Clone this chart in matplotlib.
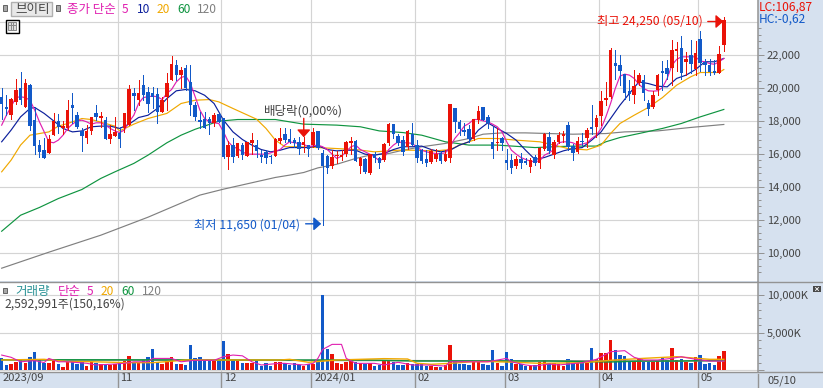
import matplotlib
matplotlib.use("Agg")
import matplotlib.pyplot as plt
from matplotlib.lines import Line2D
from matplotlib.patches import Rectangle
from matplotlib.ticker import FixedLocator
from matplotlib.transforms import ScaledTranslation

plt.rcParams["font.family"] = ["Noto Sans CJK KR", "DejaVu Sans"]

# daily candles, 2023/09 .. 05/10
opens = [19440, 18830, 18320, 19130, 20000, 18830, 20140, 18020, 16510, 16200, 16040, 17110, 17940, 17520, 17520, 18930,
         18320, 17370, 16910, 17370, 18460, 18160, 18020, 16870, 17050, 17270, 17520, 17720, 19680, 19230, 20140, 19740,
         19680, 19580, 18530, 19440, 20450, 21350, 20750, 21210, 20340, 18930, 18020, 18120, 18080, 17820, 18380, 18180,
         15760, 16510, 15840, 16510, 15840, 16650, 16510, 15900, 16100, 15840, 15860, 16750, 17210, 16870, 16810, 16710,
         16510, 16510, 16510, 17350, 16060, 15840, 15230, 15840, 15800, 15960, 16610, 16770, 15230, 15660, 14790, 15960,
         15700, 15600, 16610, 17780, 17050, 16810, 16410, 17210, 16510, 16200, 15640, 15500, 15640, 16040, 15560, 15740,
         18730, 17880, 17420, 17460, 16870, 18060, 18830, 18220, 16710, 16610, 16950, 15600, 15600, 15230, 15660, 15560,
         15190, 15800, 15400, 16300, 17010, 15900, 16710, 17070, 17720, 16470, 16100, 16750, 16910, 17620, 17580, 18260,
         19230, 19440, 21500, 21350, 20810, 19800, 19540, 20300, 20450, 19090, 18830, 19840, 21010, 21170, 21190, 22200,
         22420, 21520, 21960, 21150, 22910, 21560, 21390, 20990, 20890, 22600]
highs = [19940, 19540, 19370, 20500, 20910, 20500, 20200, 18830, 16810, 16910, 17110, 18430, 18380, 17960, 19230, 19640,
         18490, 17560, 17720, 18220, 18930, 18530, 18220, 17720, 18220, 17620, 18460, 20140, 19940, 20450, 20750, 20040,
         20040, 19940, 19440, 20850, 21900, 21660, 21250, 21350, 21350, 19130, 18530, 18530, 18220, 18460, 18380, 18180,
         16770, 16910, 16650, 16610, 16710, 17250, 16810, 16200, 16200, 15900, 16910, 17520, 17520, 17460, 16910, 17010,
         17010, 16510, 17520, 17350, 16200, 15900, 16240, 16160, 16200, 16770, 17010, 16810, 15800, 15700, 16000, 16100,
         15800, 16610, 17860, 17780, 17210, 17050, 17420, 17820, 16810, 16300, 16200, 16300, 16260, 16160, 16240, 18990,
         18730, 18060, 17820, 17720, 18120, 18870, 18830, 18320, 17580, 17520, 17010, 16300, 16000, 15840, 16040, 15700,
         15700, 15900, 16410, 17270, 17310, 16810, 17310, 17350, 17880, 16550, 17010, 17270, 17520, 18930, 18320, 19800,
         20340, 22400, 22260, 21960, 20810, 20450, 21050, 20850, 20750, 19230, 19800, 20790, 21600, 21660, 22870, 22770,
         23110, 22160, 22870, 22830, 23430, 21700, 21700, 21660, 22500, 24250]
lows = [18120, 18320, 18080, 19030, 19030, 18790, 17420, 16000, 15800, 15740, 16040, 17110, 17250, 17210, 17420, 17820,
        17520, 16160, 16650, 17170, 18020, 17620, 16870, 16610, 17050, 16410, 17310, 17720, 18630, 18930, 19230, 18530,
        18730, 17860, 18530, 18630, 20450, 20450, 19940, 19840, 18320, 18020, 17520, 17520, 17210, 17660, 17920, 15700,
        15090, 15460, 15760, 15640, 15840, 16000, 15800, 15460, 15400, 15440, 15860, 16610, 16710, 16610, 16410, 16000,
        16100, 15860, 16410, 16300, 11650, 14790, 15150, 15440, 15600, 15860, 16000, 15540, 14830, 14790, 14750, 15500,
        15150, 15560, 16510, 16910, 16510, 15900, 16300, 16510, 15500, 15400, 15230, 15440, 15560, 15440, 15540, 15500,
        17310, 17110, 17110, 16710, 16810, 17820, 18020, 17520, 15700, 16240, 16240, 15090, 14830, 15150, 15150, 15350,
        14890, 15290, 15130, 16200, 16060, 15700, 16650, 16710, 16200, 15600, 16060, 16510, 16410, 17210, 17010, 17720,
        18930, 19370, 20540, 20140, 19330, 19230, 19070, 20140, 19230, 18360, 18770, 19540, 19840, 20540, 20140, 20990,
        20540, 20750, 20850, 20750, 21010, 20750, 20750, 20810, 20890, 22220]
closes = [19030, 18670, 19330, 19840, 19270, 20300, 17680, 16450, 16100, 15740, 16870, 17960, 17620, 17660, 18630, 18770,
          17620, 17050, 17370, 18220, 18220, 18260, 16870, 17170, 17310, 16870, 18460, 19900, 19480, 19680, 19540, 19030,
          19440, 18490, 19230, 20300, 21410, 20750, 21050, 19980, 18930, 18220, 17920, 17560, 17820, 18320, 17920, 15760,
          16510, 15760, 16610, 15900, 16710, 16810, 16140, 15800, 15700, 15760, 16870, 16970, 16810, 16710, 16610, 16260,
          16710, 16300, 17310, 16340, 15230, 15150, 15760, 15900, 15940, 16710, 16750, 15540, 15700, 14850, 15960, 15700,
          15440, 16570, 17760, 17210, 16650, 16100, 17350, 16510, 15700, 15540, 15440, 16160, 16000, 15540, 16000, 18990,
          17920, 17460, 17310, 16870, 18120, 18570, 18020, 17820, 16260, 16710, 16610, 15440, 15150, 15640, 15440, 15440,
          15600, 15400, 16340, 17210, 16160, 16710, 17110, 17210, 16370, 16060, 16750, 16670, 17420, 17480, 18180, 19170,
          19390, 22300, 21290, 21010, 19680, 19600, 20100, 20750, 19640, 18690, 19540, 20750, 20850, 20810, 22260, 22360,
          20850, 21720, 21450, 22120, 21500, 21350, 20950, 20890, 22020, 24120]
volumes = [1560, 670, 800, 1120, 1340, 890, 1740, 2410, 1340, 980, 890, 1250, 800, 450, 1250, 1030, 800, 1030, 540, 1030,
           890, 760, 670, 710, 760, 1120, 1200, 1870, 1120, 1120, 1340, 1690, 2810, 1120, 800, 1200, 1690, 800, 800, 670,
           3350, 1560, 1690, 1340, 1250, 1250, 1200, 3880, 2140, 1340, 1340, 890, 890, 890, 1250, 540, 890, 540, 1120, 1120,
           890, 670, 890, 670, 580, 760, 800, 1120, 10040, 2810, 2140, 890, 800, 1070, 1200, 1030, 890, 800, 890, 580,
           670, 1200, 1200, 1030, 670, 670, 890, 760, 760, 760, 580, 580, 450, 450, 670, 3350, 1200, 800, 800, 670,
           1120, 1120, 800, 670, 2680, 980, 540, 2410, 1430, 800, 800, 540, 540, 670, 1120, 1340, 890, 890, 800, 540,
           1470, 890, 890, 890, 890, 2940, 1430, 2320, 2230, 4010, 2680, 2010, 1870, 1120, 1120, 1470, 1120, 1120, 1120, 1200,
           1690, 1340, 2940, 1340, 1470, 1070, 890, 1690, 2010, 800, 980, 670, 1870, 2590]

# price moving averages
ma5 = [17720, 18320, 18830, 19390, 19440, 19390, 19230, 18630, 17920, 17310, 16710, 16650, 16810, 17110, 17520, 17780,
       17980, 18020, 17920, 17780, 17860, 17860, 17720, 17520, 17370, 17270, 17420, 17920, 18320, 19030, 19390, 19440,
       19480, 19440, 19270, 19640, 19880, 20340, 20610, 20690, 20240, 19440, 18630, 18120, 17920, 17860, 17820, 17310,
       16710, 16410, 16300, 16100, 15960, 15960, 15960, 15960, 15960, 16040, 16140, 16240, 16510, 16710, 16650, 16610,
       16550, 16410, 16470, 16510, 16410, 16240, 15960, 15700, 15840, 16100, 16410, 16510, 16240, 16100, 15960, 15800,
       15560, 15700, 16240, 16510, 16710, 16650, 16650, 16610, 16370, 16200, 16100, 16040, 16000, 16000, 16040, 16410,
       16910, 17250, 17660, 17820, 18060, 18060, 17980, 17920, 17780, 17620, 17310, 16710, 16200, 15960, 15760, 15640,
       15540, 15500, 15560, 15900, 16040, 16240, 16650, 16710, 16710, 16650, 16510, 16570, 16650, 16910, 17110, 17520,
       18220, 19030, 19940, 20690, 20810, 20750, 20550, 20200, 19940, 19800, 19780, 19800, 20000, 20550, 21350, 21700,
       21860, 21860, 21860, 21860, 21600, 21560, 21450, 21410, 21560, 21760]
ma10_days = [0, 2, 4, 6, 7, 9, 11, 13, 15, 17, 19, 21, 23, 25, 27, 29, 31, 33, 35, 37, 39, 41, 43, 45, 47, 49, 51, 53, 55, 57,
             59, 61, 63, 65, 67, 69, 71, 73, 75, 77, 79, 81, 83, 85, 87, 89, 91, 93, 95, 97, 99, 101, 103, 105, 107, 109,
             111, 113, 115, 117, 119, 121, 123, 125, 127, 129, 131, 133, 135, 137, 139, 141, 143, 145, 147, 149, 151, 153]
ma10 = [16710, 17420, 18220, 18730, 18790, 18430, 17980, 17520, 17310, 17370, 17620, 17660, 17660, 17520, 17780, 18180,
        18320, 18730, 19330, 19800, 19880, 19800, 19530, 19030, 18020, 17310, 16850, 16510, 16240, 16100, 16200, 16360,
        16360, 16360, 16470, 16240, 16160, 16200, 16200, 15960, 15900, 16000, 16240, 16410, 16410, 16450, 16240, 16100,
        16200, 16510, 16710, 17420, 17860, 17520, 17210, 16810, 16200, 15640, 15760, 15960, 16160, 16300, 16360, 16810,
        17310, 18120, 18930, 19640, 20340, 20240, 20080, 20040, 20550, 20750, 21090, 21560, 21560, 21760]
ma20_days = [0, 2, 4, 6, 8, 10, 12, 14, 17, 19, 22, 24, 25, 28, 31, 35, 38, 41, 44, 46, 49, 54, 56, 58, 60, 63, 67, 71, 75,
             79, 84, 87, 92, 95, 97, 101, 105, 109, 114, 117, 120, 124, 127, 129, 131, 134, 137, 140, 143, 146, 148, 152, 153]
ma20 = [14890, 15600, 16510, 17110, 17210, 17310, 17660, 17820, 18120, 18060, 17820, 17660, 17370, 17780, 18120, 18430,
        19030, 19230, 19270, 19130, 18730, 18080, 17520, 16810, 16410, 16410, 16360, 16300, 16240, 16100, 16200, 16200,
        16160, 16240, 16510, 16910, 16910, 16810, 16710, 16510, 16300, 16220, 16510, 17210, 17820, 18320, 18790, 19390,
        20140, 20650, 20910, 20910, 21090]
ma60_days = [0, 4, 8, 12, 17, 21, 24, 28, 31, 35, 38, 41, 46, 50, 58, 61, 64, 71, 76, 80, 85, 89, 94, 99, 105, 113, 117,
             121, 126, 128, 131, 135, 140, 144, 148, 153]
ma60 = [11290, 12260, 12730, 13270, 13820, 14490, 14890, 15400, 15900, 16650, 17110, 17470, 17960, 18060, 18060, 17920,
        17780, 17720, 17620, 17370, 17270, 17110, 16710, 16510, 16510, 16360, 16410, 16450, 16450, 16710, 16970, 17210,
        17520, 17820, 18220, 18670]
ma120_days = [0, 10, 21, 31, 42, 47, 58, 61, 64, 67, 71, 75, 78, 82, 85, 89, 94, 99, 102, 106, 111, 116, 121, 128, 132, 139,
              146, 153]
ma120 = [9050, 10020, 11050, 12140, 13480, 13840, 14550, 14690, 14850, 15130, 15350, 15700, 15900, 16000, 16200, 16410,
         16610, 16910, 17170, 17250, 17250, 17210, 17170, 17210, 17310, 17370, 17580, 17760]

# volume moving averages
vol5_days = [0, 2, 4, 7, 9, 10, 12, 14, 18, 20, 24, 26, 28, 31, 32, 36, 38, 41, 45, 47, 49, 51, 53, 55, 59, 60, 64, 66, 67,
             68, 70, 72, 73, 75, 79, 81, 84, 87, 90, 94, 95, 99, 103, 107, 108, 111, 113, 116, 118, 123, 126, 129, 132,
             134, 136, 139, 142, 144, 147, 150, 153]
vol5 = [2000, 1700, 1100, 1250, 1000, 1550, 1100, 1100, 900, 670, 800, 900, 1100, 1100, 1550, 1550, 1100, 1300, 1300, 1780,
        2000, 1900, 1100, 670, 900, 890, 670, 890, 1560, 2750, 3430, 3430, 1560, 890, 890, 670, 1030, 670, 670, 530, 1100,
        1100, 1100, 1560, 1100, 670, 530, 800, 670, 980, 1430, 2450, 2590, 1700, 1340, 1340, 1560, 1780, 1430, 1200, 1200]
vol20_days = [0, 9, 14, 18, 27, 32, 35, 39, 49, 59, 61, 65, 71, 81, 86, 88, 91, 95, 100, 104, 109, 114, 123, 130, 136, 143,
              150, 153]
vol20 = [1340, 1430, 1120, 1120, 980, 980, 1120, 1340, 1340, 1340, 1430, 1030, 1340, 1520, 1470, 900, 760, 890, 1120, 1120,
         1030, 890, 980, 1340, 1560, 1780, 1430, 1430]
vol60_days = [0, 59, 77, 88, 100, 110, 116, 129, 136, 144, 153]
vol60 = [1380, 1340, 1340, 1200, 1200, 1200, 1200, 1070, 1200, 1200, 1340]
vol120_days = [0, 60, 90, 153]
vol120 = [1340, 1290, 1250, 1200]

month_days = [-0.35, 24.6, 46.5, 65.6, 87.6, 106.6, 126.5, 147.5]
month_labels = ["2023/09", "11", "12", "2024/01", "02", "03", "04", "05"]
price_ticks = [10000, 12000, 14000, 16000, 18000, 20000, 22000]
price_labels = ["10,000", "12,000", "14,000", "16,000", "18,000", "20,000", "22,000"]
price_minor = list(range(8800, 23800, 400))
vol_ticks = [0, 5000, 10000]
vol_labels = ["", "5,000K", "10,000K"]
vol_minor = list(range(1000, 11000, 1000))

RED = "#ea1208"
BLUE = "#1259c8"
MAGENTA = "#e01fb0"
NAVY = "#0c1f9c"
ORANGE = "#f0a800"
GREEN = "#0f9440"
GRAY = "#808080"
TEAL = "#2a9296"
TEXT = "#444444"
GRID = "#d4d4d4"
EDGE = "#939393"
PANEL = "#d6e1ef"
PX = 0.72  # one pixel in points at dpi 100
THIN = 0.6
BODY = 0.74

W, H = 823, 388
fig = plt.figure(figsize=(W / 100, H / 100), dpi=100, facecolor=PANEL)
ax = fig.add_axes([0, (H - 281) / H, 758 / W, 281 / H])
ax_v = fig.add_axes([0, (H - 372) / H, 758 / W, 90 / H], sharex=ax)

days = list(range(len(closes)))
colors = [RED if c >= o else BLUE for o, c in zip(opens, closes)]
bottoms = [min(o, c) for o, c in zip(opens, closes)]
heights = [max(abs(c - o), 60) for o, c in zip(opens, closes)]

line_kw = dict(lw=0.85)
ax.plot(ma120_days, ma120, color=GRAY, zorder=2, **line_kw)
ax.plot(ma60_days, ma60, color=GREEN, zorder=2, **line_kw)
ax.plot(ma20_days, ma20, color=ORANGE, zorder=2, **line_kw)
ax.plot(ma10_days, ma10, color=NAVY, zorder=2, **line_kw)
ax.plot(days, ma5, color=MAGENTA, zorder=2, **line_kw)
ax.vlines(days, lows, highs, colors=colors, lw=THIN, zorder=3, antialiased=False)
ax.bar(days, heights, BODY, bottom=bottoms, color=colors, lw=0, zorder=4, antialiased=False)

ax_v.bar(days, volumes, BODY, color=colors, lw=0, zorder=2, antialiased=False)
ax_v.plot(vol120_days, vol120, color=GRAY, lw=1.0, zorder=3)
ax_v.plot(vol60_days, vol60, color=GREEN, lw=1.0, zorder=3)
ax_v.plot(vol20_days, vol20, color=ORANGE, lw=1.0, zorder=3)
ax_v.plot(vol5_days, vol5, color=MAGENTA, lw=0.8, zorder=4)

# axis ranges fixed to the gridline rows of the picture
ax.set_xlim(-0.354, 160.24)
ax.set_ylim(8274, 25303)
ax_v.set_ylim(-268, 11780)

for a in (ax, ax_v):
    a.set_facecolor("white")
    a.set_axisbelow(True)
    for side in ("top", "left", "bottom"):
        a.spines[side].set_visible(False)
    a.spines["right"].set_color(EDGE)
    a.spines["right"].set_linewidth(1.1)
    a.yaxis.tick_right()
    a.set_xticks(month_days)
    a.grid(True, color=GRID, lw=0.85)
    a.tick_params(axis="y", which="major", length=4.3, width=PX, color=EDGE, pad=2.2, labelsize=8, labelcolor=TEXT)
    a.tick_params(axis="y", which="minor", length=2.2, width=PX, color=EDGE)

ax.set_yticks(price_ticks, price_labels)
ax.yaxis.set_minor_locator(FixedLocator(price_minor))
ax.axhline(24000, color=GRID, lw=0.85, zorder=1)
ax.tick_params(axis="x", length=0, labelbottom=False)

ax_v.set_yticks(vol_ticks, vol_labels)
ax_v.yaxis.set_minor_locator(FixedLocator(vol_minor))
ax_v.set_xticks(month_days, month_labels)
ax_v.tick_params(axis="x", length=11.5, width=1.0, color=EDGE, pad=-11, labelsize=8, labelcolor=TEXT)
for lab in ax_v.get_xticklabels():
    lab.set_ha("left")
    lab.set_transform(lab.get_transform() + ScaledTranslation(2 / 72, 0, fig.dpi_scale_trans))
for a in (ax, ax_v):
    first = a.xaxis.get_major_ticks()[0]
    first.gridline.set_visible(False)
    first.tick1line.set_visible(False)

# annotations on the price panel
arrow_kw = dict(arrowstyle="-|>,head_length=0.45,head_width=0.4", lw=1, mutation_scale=10, shrinkA=0, shrinkB=0)
ax.text(148.6, 24000, "최고 24,250 (05/10)", color=RED, fontsize=8.8, ha="right", va="center")
ax.annotate("", xy=(152.9, 24000), xytext=(149.6, 24000), arrowprops=dict(color=RED, **arrow_kw))
ax.text(63.2, 11680, "최저 11,650 (01/04)", color=BLUE, fontsize=8.8, ha="right", va="center")
ax.annotate("", xy=(67.7, 11740), xytext=(64.4, 11740), arrowprops=dict(color=BLUE, **arrow_kw))
ax.text(64, 18600, "배당락(0,00%)", color=TEXT, fontsize=9, ha="center", va="center")
ax.annotate("", xy=(64, 16980), xytext=(64, 18130), zorder=5, arrowprops=dict(color=RED, **arrow_kw))


def put(x, y, s, color=TEXT, size=8.8, ha="left"):
    fig.text(x / W, 1 - (y + 1.5) / H, s, color=color, fontsize=size, ha=ha, va="center")


def box(x0, y0, x1, y1, face, edge="none", lw=0.72):
    fig.add_artist(Rectangle((x0 / W, 1 - y1 / H), (x1 - x0) / W, (y1 - y0) / H, transform=fig.transFigure,
                             facecolor=face, edgecolor=edge, linewidth=lw))


def rule(x0, y0, x1, y1, color=EDGE, lw=1.0):
    fig.add_artist(Line2D([x0 / W, x1 / W], [1 - y0 / H, 1 - y1 / H], color=color, lw=lw))


# frame lines
rule(0, 281.5, W, 281.5)
rule(0, 371.5, W, 371.5)
rule(758, 374, 758, H)

# header of the price panel
box(3, 5, 7.5, 10.5, "#a8a8a8", "#666666")
box(10.5, 1.5, 52, 15.5, "#e8e8e8", "#b0b0b0", 1)
put(15, 8, "브이티", TEXT, 9)
box(55.5, 5, 60, 10.5, "#a8a8a8", "#666666")
put(67, 8, "종가 단순", MAGENTA, 9)
put(122, 8, "5", MAGENTA, 8.6)
put(137, 8, "10", NAVY, 8.6)
put(157, 8, "20", ORANGE, 8.6)
put(177, 8, "60", GREEN, 8.6)
put(197, 8, "120", GRAY, 8.6)

# small table icon
box(5.5, 19.5, 18.5, 32.5, "white", "black", 1)
box(8, 22, 16, 30, "#dddddd", "#8a8a8a", 0.72)
rule(10.7, 22, 10.7, 30, "#8a8a8a", 0.72)
rule(13.3, 22, 13.3, 30, "#8a8a8a", 0.72)
rule(8, 25, 16, 25, "#8a8a8a", 0.72)

put(759, 6, "LC:106,87", RED, 8.6)
put(759, 18, "HC:-0,62", BLUE, 8.6)

# header of the volume panel
box(3, 287.5, 7.5, 293, "#a8a8a8", "#666666")
put(15, 290, "거래량", TEAL, 9)
put(58, 290, "단순", MAGENTA, 9)
put(87, 290, "5", MAGENTA, 8.6)
put(101, 290, "20", ORANGE, 8.6)
put(121, 290, "60", GREEN, 8.6)
put(142, 290, "120", GRAY, 8.6)
put(4.5, 303, "2,592,991주(150,16%)", TEXT, 8.7)

put(767, 379, "05/10", TEXT, 8)

# collapse button at the top right of the volume scale
box(813, 286, 821, 292, "#484848")
rule(815.5, 287.5, 818.5, 290.5, "white", 0.6)
rule(815.5, 290.5, 818.5, 287.5, "white", 0.6)

fig.savefig("out.png", dpi=100, facecolor=fig.get_facecolor())
